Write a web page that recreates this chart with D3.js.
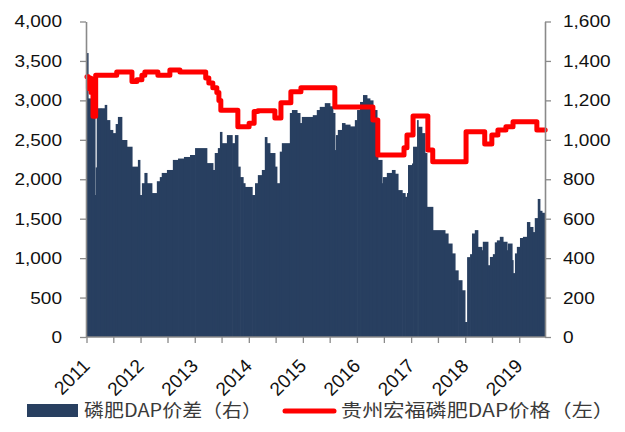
<!DOCTYPE html>
<html><head><meta charset="utf-8">
<script src="https://cdn.jsdelivr.net/npm/d3@7"></script>
<style>
html,body{margin:0;padding:0;background:#fff;}
svg{display:block;}
</style></head>
<body>
<svg id="chart" width="625" height="432"></svg>
<script>
// ---- data ----
const gapDates = ["2011-01-01","2011-01-11","2011-02-07","2011-02-27","2011-03-04","2011-03-11","2011-04-07","2011-05-04","2011-05-17","2011-06-07",
"2011-06-27","2011-07-17","2011-08-01","2011-08-27","2011-09-30","2011-11-04","2011-12-14","2011-12-27","2012-01-10","2012-01-27",
"2012-02-13","2012-03-17","2012-04-20","2012-05-10","2012-05-23","2012-06-27","2012-08-06","2012-09-10","2012-10-20","2012-11-30",
"2013-01-03","2013-03-23","2013-05-03","2013-05-16","2013-06-06","2013-06-20","2013-07-03","2013-08-06","2013-09-10","2013-09-29",
"2013-10-19","2013-11-03","2013-11-23","2013-12-06","2014-01-23","2014-02-12","2014-03-03","2014-03-30","2014-04-19","2014-05-03",
"2014-05-23","2014-06-26","2014-07-09","2014-07-29","2014-08-12","2014-10-05","2014-10-19","2014-11-22","2014-12-12","2014-12-25",
"2015-03-09","2015-04-05","2015-04-25","2015-05-29","2015-07-02","2015-07-22","2015-08-05","2015-08-12","2015-08-25","2015-09-22",
"2015-10-12","2015-11-15","2015-12-18","2016-01-02","2016-01-22","2016-02-11","2016-03-08","2016-03-28","2016-04-18","2016-05-15",
"2016-05-21","2016-06-18","2016-06-24","2016-07-21","2016-08-24","2016-09-14","2016-10-04","2016-11-01","2016-11-21","2016-12-04",
"2016-12-11","2017-01-07","2017-01-14","2017-02-10","2017-02-17","2017-03-14","2017-04-04","2017-04-17","2017-05-27","2017-08-17",
"2017-09-07","2017-10-04","2017-10-24","2017-11-14","2017-12-10","2017-12-30","2018-01-14","2018-02-03","2018-02-16","2018-03-07",
"2018-03-27","2018-04-23","2018-04-30","2018-06-03","2018-06-17","2018-07-07","2018-07-20","2018-08-03","2018-08-23","2018-09-13",
"2018-10-10","2018-10-16","2018-11-13","2018-11-20","2018-12-03","2018-12-16","2019-01-06","2019-01-26","2019-02-22","2019-03-13",
"2019-04-03","2019-04-16","2019-05-06","2019-05-20","2019-06-03"];
const gapValues = [1440,1210,1200,720,860,1160,1160,1177,1100,1050,
1034,1080,1116,999,965,864,898,720,780,832,
780,730,790,811,832,847,898,905,913,923,
958,882,847,933,958,1040,983,1024,983,1024,
864,811,780,761,720,780,821,847,1014,983,
933,864,780,940,983,1136,1151,1136,1085,1116,
1125,1151,1167,1186,1170,1136,948,1024,1050,1085,
1077,1068,1100,1151,1192,1227,1210,1200,1151,1050,
898,780,811,832,847,828,745,730,711,730,
872,880,965,1100,1066,1034,933,660,542,525,
474,424,338,288,237,76,405,420,525,542,
457,440,483,364,406,420,480,490,508,483,
440,474,390,324,424,457,502,508,583,558,
532,603,700,640,630];

const priceDates = ["2011-01-04","2011-01-14","2011-01-24","2011-02-01","2011-02-07","2011-02-14","2011-03-04","2011-07-24","2011-11-04","2011-12-07",
"2012-01-10","2012-01-30","2012-04-27","2012-07-17","2012-09-23","2013-03-16","2013-04-06","2013-05-03","2013-05-30","2013-06-13",
"2013-06-26","2013-10-19","2014-01-03","2014-02-06","2014-03-03","2014-06-26","2014-08-06","2014-10-12","2014-12-19","2015-08-05",
"2016-04-18","2016-05-21","2016-11-14","2016-12-04","2017-01-14","2017-04-24","2017-05-27","2018-01-07","2018-05-13","2018-06-30",
"2018-08-10","2018-10-03","2018-11-20","2019-04-30","2019-06-25"];
const priceValues = [3300,3150,3280,3100,3200,2800,3320,3360,3240,3260,
3320,3360,3320,3385,3360,3283,3220,3160,3100,3000,
2875,2666,2710,2860,2870,2776,2970,3110,3161,2915,
2751,2307,2400,2560,2802,2371,2222,2603,2447,2560,
2624,2666,2730,2624,2624];

const leftTicks = [0,500,1000,1500,2000,2500,3000,3500,4000];
const rightTicks = [0,200,400,600,800,1000,1200,1400,1600];
const yearLabels = ["2011","2012","2013","2014","2015","2016","2017","2018","2019"];
const legendLabels = ["磷肥DAP价差（右）","贵州宏福磷肥DAP价格（左）"];
const xDomain = ["2011-01-01","2019-06-24"];

// ---- drawing ----
const parse = d3.timeParse("%Y-%m-%d");
const svg = d3.select("#chart");
const barColor = "#283f60", lineColor = "#ff0000", axisColor = "#8a8a8a";
const L = 86, R = 545, B = 337, T = 21.5;
const SX = 1.12; // horizontal stretch of tick label glyphs

const x = d3.scaleTime().domain(xDomain.map(parse)).range([L + 0.5, R]);
const yL = d3.scaleLinear().domain([0, 4000]).range([B, T]);
const yR = d3.scaleLinear().domain([0, 1600]).range([B, T]);

const gap = gapDates.map((d, i) => ({date: parse(d), value: gapValues[i]}));
const endDate = parse(xDomain[1]);

svg.append("g").selectAll("rect").data(gap).join("rect")
  .attr("x", d => x(d.date))
  .attr("width", (d, i) => (i < gap.length - 1 ? x(gap[i + 1].date) : x(endDate)) - x(d.date) + 0.6)
  .attr("y", d => yR(d.value))
  .attr("height", d => B - yR(d.value))
  .attr("fill", barColor);

const price = priceDates.map((d, i) => ({date: parse(d), value: priceValues[i]}));
svg.append("path").datum(price)
  .attr("fill", "none").attr("stroke", lineColor).attr("stroke-width", 5)
  .attr("stroke-linejoin", "round").attr("stroke-linecap", "round")
  .attr("d", d3.line().x(d => x(d.date)).y(d => yL(d.value)).curve(d3.curveStepAfter));

const fontFam = "'Liberation Sans', Arial, sans-serif";
const fmt = d3.format(",");

// left axis
const gL = svg.append("g").attr("transform", `translate(${L},0)`)
  .call(d3.axisLeft(yL).tickValues(leftTicks).tickFormat(fmt).tickSizeInner(6).tickSizeOuter(0).tickPadding(18));
// right axis
const gR = svg.append("g").attr("transform", `translate(${R},0)`)
  .call(d3.axisRight(yR).tickValues(rightTicks).tickFormat(fmt).tickSizeInner(6).tickSizeOuter(0).tickPadding(12));
// bottom axis
const halfYears = d3.timeMonth.every(6).range(parse("2011-01-01"), endDate);
const gB = svg.append("g").attr("transform", `translate(0,${B})`)
  .call(d3.axisBottom(x).tickValues(halfYears).tickSizeInner(6).tickSizeOuter(0)
    .tickFormat(d => d.getMonth() === 0 ? yearLabels[d.getFullYear() - 2011] : ""));

[gL, gR, gB].forEach(g => {
  g.select(".domain").attr("stroke", axisColor).attr("stroke-width", 1.6);
  g.selectAll(".tick line").attr("stroke", axisColor).attr("stroke-width", 1.3);
  g.selectAll("text").attr("font-family", fontFam).attr("font-size", 17).attr("fill", "#111");
});
gL.selectAll(".tick text").attr("x", -24 / SX).attr("transform", `scale(${SX},1)`);
gR.selectAll(".tick text").attr("x", 18 / SX).attr("transform", `scale(${SX},1)`);
gB.select(".domain").attr("d", `M${L},0H${R}`);
gB.selectAll(".tick text")
  .attr("text-anchor", "end")
  .attr("font-size", 19)
  .attr("dy", 0).attr("y", 0)
  .attr("transform", "translate(4,30) rotate(-45)");

// legend
const lg = svg.append("g").attr("font-family", "'Noto Sans CJK SC', sans-serif").attr("font-size", 18).attr("fill", "#3a3a3a");
lg.append("rect").attr("x", 27).attr("y", 404).attr("width", 51).attr("height", 13).attr("fill", barColor);
lg.append("text").attr("x", 84).attr("y", 417).text(legendLabels[0])
  .attr("textLength", 178).attr("lengthAdjust", "spacingAndGlyphs");
lg.append("line").attr("x1", 285).attr("x2", 334).attr("y1", 411).attr("y2", 411)
  .attr("stroke", lineColor).attr("stroke-width", 5).attr("stroke-linecap", "round");
lg.append("text").attr("x", 341).attr("y", 417).text(legendLabels[1])
  .attr("textLength", 273).attr("lengthAdjust", "spacingAndGlyphs");
</script>
</body></html>
